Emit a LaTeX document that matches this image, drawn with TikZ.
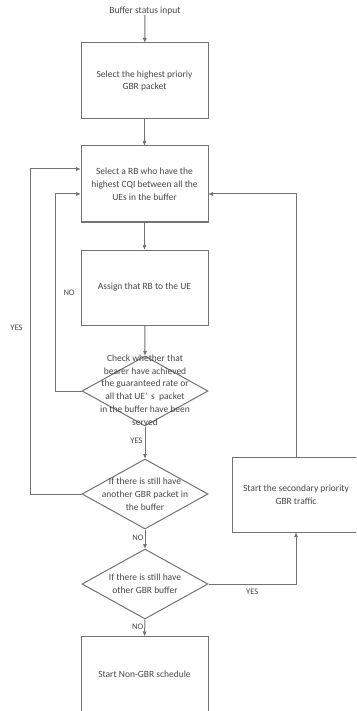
\documentclass[tikz,border=0pt]{standalone}
\usepackage{fontspec}
\setmainfont{Carlito}
\usetikzlibrary{shapes.geometric,arrows.meta}
\begin{document}
\begin{tikzpicture}[x=1pt,y=-1pt,
  line/.style={draw=black!55,line width=1pt},
  arr/.style={line,-{Triangle[length=4.5pt,width=3.5pt]}},
  box/.style={line,rectangle,minimum width=127pt,minimum height=76pt,inner sep=0pt,
    align=center,text=black!72,font=\fontsize{9.5}{12.8}\selectfont},
  dia/.style={line,diamond,minimum width=126pt,minimum height=70pt,inner sep=0pt},
  txt/.style={text=black!72,font=\fontsize{9.5}{12.8}\selectfont,align=center,inner sep=0pt},
  lbl/.style={text=black!72,font=\fontsize{8.5}{10}\selectfont,inner sep=0pt}]
\useasboundingbox (0,0) rectangle (356,711);
\clip (0,0) rectangle (356,711);
\node[txt] (in) at (145,11) {Buffer status input};
\node[box] (b1) at (144.5,81) {Select the highest prioriy\\GBR packet};
\node[box] (b2) at (144.5,184) {Select a RB who have the\\highest CQI between all the\\UEs in the buffer};
\node[box,minimum height=75pt] (b3) at (144.5,287.5) {Assign that RB to the UE};
\node[dia] (d1) at (145,391) {};
\node[txt] (d1t) at (145,390) {Check whether that\\bearer have achieved\\the guaranteed rate or\\all that UE’\,\ s\ \ packet\\in the buffer have been\\served};
\node[dia] (d2) at (145,494) {};
\node[txt] (d2t) at (145,494) {If there is still have\\another GBR packet in\\the buffer};
\node[dia] (d3) at (145,584) {};
\node[txt] (d3t) at (145,584) {If there is still have\\other GBR buffer};
\node[box,minimum height=75pt] (b4) at (144.5,674) {Start Non-GBR schedule};
\node[box,minimum height=75pt] (b5) at (296,494.5) {Start the secondary priority\\GBR traffic};
\coordinate (c1) at (55,391);
\coordinate (c2) at (55,194);
\coordinate (c3) at (30,494);
\coordinate (c4) at (30,169);
\coordinate (c5) at (296,584);
\coordinate (c6) at (296,194);
\draw[arr] (in) -- (b1);
\draw[arr] (b1) -- (b2);
\draw[arr] (b2) -- (b3);
\draw[arr] (b3) -- (d1.north);
\draw[arr] (d1.south) -- node[lbl,left=2pt,pos=0.45] {YES} (d2.north);
\draw[arr] (d2.south) -- node[lbl,left=1pt,pos=0.45] {NO} (d3.north);
\draw[arr] (d3.south) -- node[lbl,left=1pt,pos=0.45] {NO} (b4.north);
\draw[arr] (d1.west) -- (c1) -- node[lbl,right=8pt,pos=0.5] {NO} (c2) -- (c2 -| b2.west);
\draw[arr] (d2.west) -- (c3) -- node[lbl,left=7pt,pos=0.51] {YES} (c4) -- (c4 -| b2.west);
\draw[arr] (d3.east) -- node[lbl,below=4pt,pos=0.5] {YES} (c5) -- (b5.south);
\draw[arr] (b5.north) -- (c6) -- (c6 -| b2.east);
\end{tikzpicture}
\end{document}
